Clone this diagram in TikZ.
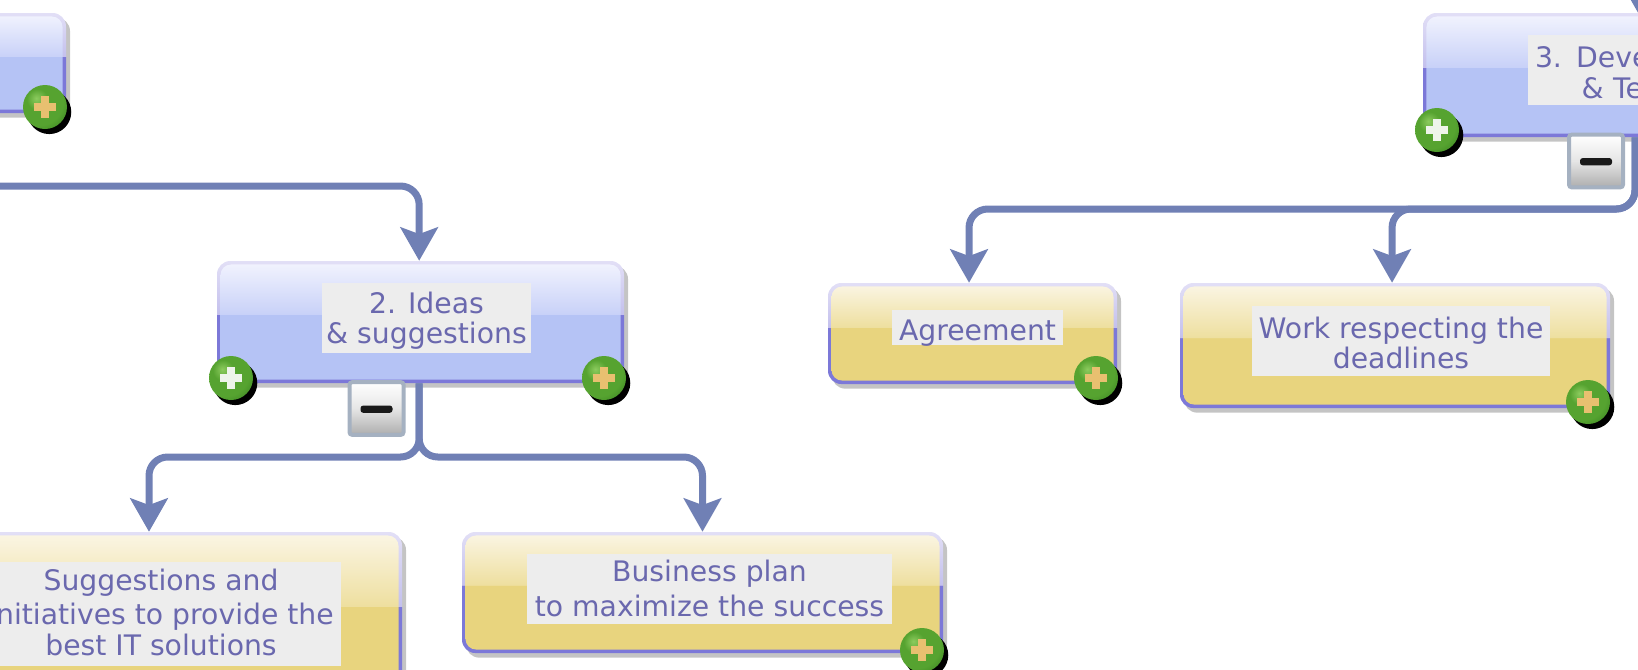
\documentclass[tikz,border=0pt]{standalone}
\usepackage{fontspec}
\setmainfont{DejaVu Sans}
\usetikzlibrary{arrows.meta,calc,shadows}

\definecolor{flowblue}{HTML}{7080B5}
\definecolor{edgelight}{HTML}{E2DFF6}
\definecolor{edgedark}{HTML}{7C78D8}
\definecolor{bluetop}{HTML}{F3F4FE}
\definecolor{bluelow}{HTML}{C8D1F8}
\definecolor{blueflat}{HTML}{B5C3F5}
\definecolor{yellowtop}{HTML}{FBF6E6}
\definecolor{yellowlow}{HTML}{EEDF9F}
\definecolor{yellowflat}{HTML}{E8D47E}
\definecolor{labelgray}{HTML}{EDEDED}
\definecolor{labeltext}{HTML}{6A68AE}
\definecolor{shadowgray}{HTML}{C4C4C4}
\definecolor{ballhigh}{HTML}{8CCB5E}
\definecolor{ballmid}{HTML}{56A330}
\definecolor{balledge}{HTML}{2F7A1C}
\definecolor{plusorange}{HTML}{E8C070}
\definecolor{pluswhite}{HTML}{EEF4EA}
\definecolor{minusedge}{HTML}{A5B1C1}

% box shadings: the picture shows the range 25bp to 75bp
\pgfdeclareverticalshading{edgeshade}{100bp}{color(0bp)=(edgedark); color(53bp)=(edgedark); color(53.1bp)=(edgelight!70!edgedark); color(75bp)=(edgelight); color(100bp)=(edgelight)}
\pgfdeclareverticalshading{blueshade}{100bp}{color(0bp)=(blueflat); color(53bp)=(blueflat); color(53.1bp)=(bluelow); color(75bp)=(bluetop); color(100bp)=(bluetop)}
\pgfdeclareverticalshading{yellowshade}{100bp}{color(0bp)=(yellowflat); color(53bp)=(yellowflat); color(53.1bp)=(yellowlow); color(75bp)=(yellowtop); color(100bp)=(yellowtop)}
\pgfdeclareradialshading{ballshade}{\pgfpoint{-10bp}{10bp}}{color(0bp)=(ballhigh); color(12bp)=(ballmid); color(28bp)=(ballmid); color(45bp)=(balledge); color(100bp)=(balledge)}

\tikzset{
  glassbox/.style={shade, shading=edgeshade, rounded corners=10pt, inner sep=0pt,
    drop shadow={shadow xshift=3pt, shadow yshift=-3.5pt, fill=shadowgray, opacity=1},
    path picture={\shade[shading=#1, rounded corners=8pt]
      ($(path picture bounding box.north west)+(2.6pt,-2.6pt)$) rectangle
      ($(path picture bounding box.south east)+(-2.6pt,2.6pt)$);}},
  labelbox/.style={fill=labelgray, text=labeltext, inner sep=0pt, align=center,
    font=\fontsize{21.2}{23}\selectfont},
  flowline/.style={draw=flowblue, line width=5.25pt, rounded corners=14pt,
    -{Stealth[length=25pt, width=28pt, inset=5pt]}},
  plusbtn/.style={circle, shade, shading=ballshade, minimum size=33pt, inner sep=0pt,
    drop shadow={shadow xshift=3.2pt, shadow yshift=-3.8pt, fill=black, opacity=1},
    path picture={
      \fill[#1] ($(path picture bounding box.center)+(-8.6pt,-3.2pt)$) rectangle +(17.2pt,6.4pt);
      \fill[#1] ($(path picture bounding box.center)+(-3.2pt,-8.6pt)$) rectangle +(6.4pt,17.2pt);}},
  minusbtn/.style={rectangle, draw=minusedge, line width=3pt, rounded corners=2pt,
    top color=white, bottom color=black!32, middle color=black!10,
    minimum width=40.5pt, minimum height=39.5pt, inner sep=0pt,
    path picture={\fill[black!90] ($(path picture bounding box.center)+(-12pt,-3.2pt)$) rectangle +(24pt,5.4pt);}}
}

\begin{document}
\begin{tikzpicture}[x=0.75pt, y=-0.75pt]
  \useasboundingbox (0,0) rectangle (1638,669);
  \clip (0,0) rectangle (1638,669);

  % free ends of the connectors
  \coordinate (inLeft) at (0,186);
  \coordinate (inRight) at (1638,-40);
  \coordinate (splitA) at (300,457);
  \coordinate (splitB) at (500,457);
  \coordinate (splitC) at (1300,209);
  \coordinate (splitD) at (1500,209);

  % boxes
  \node[glassbox=blueshade, minimum width=150pt, minimum height=75pt] (first) at (-34,63) {};
  \node[glassbox=blueshade, minimum width=305.25pt, minimum height=91.5pt] (ideas) at (420.5,322) {};
  \node[glassbox=blueshade, minimum width=318pt, minimum height=93pt] (devel) at (1635,75) {};
  \node[glassbox=yellowshade, minimum width=376.5pt, minimum height=127.5pt] (sugg) at (151,617) {};
  \node[glassbox=yellowshade, minimum width=360.75pt, minimum height=90.75pt] (plan) at (702.5,592.5) {};
  \node[glassbox=yellowshade, minimum width=216.75pt, minimum height=75.75pt] (agree) at (972.5,333.5) {};
  \node[glassbox=yellowshade, minimum width=322.5pt, minimum height=93.75pt] (work) at (1395,345.5) {};

  % connectors
  \draw[flowline] (inLeft) -| ([xshift=-1pt]ideas.north);
  \draw[flowline] ([xshift=-1pt]ideas.south) |- (splitA) -| ([xshift=-1.5pt]sugg.north);
  \draw[flowline] ([xshift=-1pt]ideas.south) |- (splitB) -| (plan.north);
  \draw[flowline] (inRight) -- (inRight |- devel.north);
  \draw[flowline] (devel.south) |- (splitC) -| ([xshift=-2.6pt]agree.north);
  \draw[flowline] (devel.south) |- (splitD) -| ([xshift=-2.2pt]work.north);

  % texts (the rules only push the lines down or up inside the grey boxes)
  \node[labelbox, minimum width=156.75pt, minimum height=52.5pt] (ideasText) at (426.5,318) {\rule{0pt}{20pt}2. Ideas\\\& suggestions};
  \node[labelbox, text width=150pt, inner xsep=5.25pt, align=left, minimum height=52.5pt] (develText) at (1635,70) {\rule{0pt}{20pt}3. Deve\\\hspace*{35pt}\& Te};
  \node[labelbox, minimum width=270pt, minimum height=78pt] (suggText) at (161,614) {Suggestions and\\[3pt]initiatives to provide the\\best IT solutions\rule[-3.1pt]{0pt}{1pt}};
  \node[labelbox, minimum width=273.75pt, minimum height=52.5pt] (planText) at (709.5,589) {Business plan\\[3pt]to maximize the success\rule[-1.6pt]{0pt}{1pt}};
  \node[labelbox, minimum width=128.25pt, minimum height=26.25pt] (agreeText) at (977.5,327.5) {\raisebox{-9.85pt}[0pt][0pt]{Agreement}};
  \node[labelbox, minimum width=223.5pt, minimum height=52.5pt] (workText) at (1401,341) {\rule{0pt}{19pt}Work respecting the\\deadlines};

  % minus buttons
  \node[minusbtn] (ideasMinus) at (376.5,408.5) {};
  \node[minusbtn] (develMinus) at (1596,161) {};

  % plus buttons
  \node[plusbtn=plusorange] (firstPlus) at (45,107) {};
  \node[plusbtn=pluswhite] (ideasPlusL) at (231,378) {};
  \node[plusbtn=plusorange] (ideasPlusR) at (604,378) {};
  \node[plusbtn=pluswhite] (develPlus) at (1437,130) {};
  \node[plusbtn=plusorange] (agreePlus) at (1096,378) {};
  \node[plusbtn=plusorange] (workPlus) at (1588,402) {};
  \node[plusbtn=plusorange] (planPlus) at (922,650) {};
\end{tikzpicture}
\end{document}
